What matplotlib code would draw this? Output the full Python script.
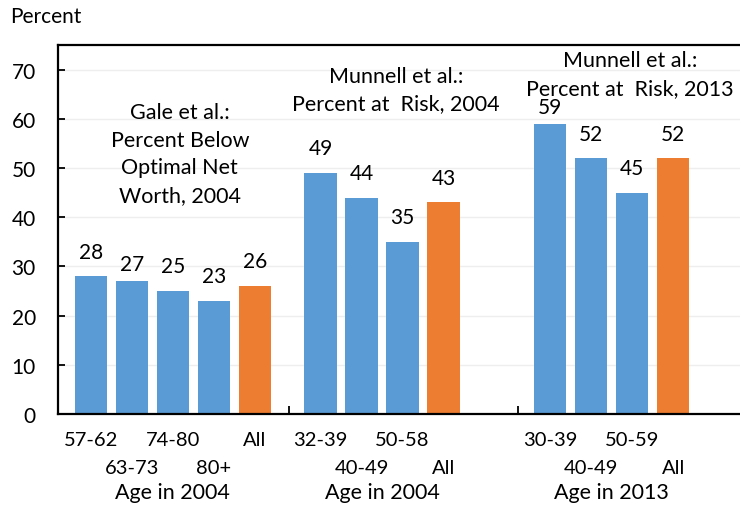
import matplotlib
matplotlib.use("Agg")
import matplotlib.pyplot as plt
import matplotlib.transforms as mtransforms

plt.rcParams["font.family"] = ["Lato", "DejaVu Sans"]

# Three studies, each with its own age groups plus an "All" bar
gale_ages = ["57-62", "63-73", "74-80", "80+", "All"]
gale_values = [28, 27, 25, 23, 26]

munnell04_ages = ["32-39", "40-49", "50-58", "All"]
munnell04_values = [49, 44, 35, 43]

munnell13_ages = ["30-39", "40-49", "50-59", "All"]
munnell13_values = [59, 52, 45, 52]

group_titles = ["Gale et al.:\nPercent Below\nOptimal Net\nWorth, 2004",
                "Munnell et al.:\nPercent at  Risk, 2004",
                "Munnell et al.:\nPercent at  Risk, 2013"]
group_axis_labels = ["Age in 2004", "Age in 2004", "Age in 2013"]

BLUE = "#5B9BD5"
ORANGE = "#ED7D31"
FS = 15

groups = [(gale_ages, gale_values),
          (munnell04_ages, munnell04_values),
          (munnell13_ages, munnell13_values)]
group_starts = [0.0, 5.6, 11.2]
separators = [4.83, 10.41]
title_pos = [(2.17, 52.9), (7.44, 65.9), (13.15, 69.1)]
label_nudge = {(0, 1): -1.6, (2, 0): -1.6}

fig = plt.figure(figsize=(7.4, 5.06), dpi=100)
ax = fig.add_axes([58 / 740, 1 - 415 / 506, 1 - 58 / 740, (415 - 46) / 506])

trans = mtransforms.blended_transform_factory(ax.transData, ax.transAxes)
ax_h = 369.0

for g, ((ages, vals), start) in enumerate(zip(groups, group_starts)):
    xs = [start + i for i in range(len(vals))]
    colors = [ORANGE if a == "All" else BLUE for a in ages]
    ax.bar(xs, vals, width=0.79, color=colors, zorder=2)
    for i, (x, v) in enumerate(zip(xs, vals)):
        y = v + 5.0 + label_nudge.get((g, i), 0)
        ax.text(x, y, str(v), ha="center", va="center", fontsize=FS, zorder=3)
    for i, (x, a) in enumerate(zip(xs, ages)):
        ypix = 25 if i % 2 == 0 else 54
        ax.text(x, -ypix / ax_h, a, transform=trans, ha="center", va="center",
                fontsize=FS - 0.5)
    ax.text(sum(xs) / len(xs), -78 / ax_h, group_axis_labels[g], transform=trans,
            ha="center", va="center", fontsize=FS + 0.5)
    tx, ty = title_pos[g]
    ax.text(tx, ty, group_titles[g], ha="center", va="center", fontsize=FS + 0.5,
            linespacing=1.47)

ax.set_xlim(-0.8, 15.83)
ax.set_ylim(0, 75)
ax.set_yticks(range(0, 71, 10))
ax.set_xticks(separators)
ax.set_xticklabels([])
ax.tick_params(axis="y", direction="in", length=5, width=1.3, labelsize=FS, pad=16)
ax.tick_params(axis="x", direction="in", length=6, width=1.3)
ax.yaxis.grid(True, color="#eeeeee", linewidth=1, zorder=0)
ax.set_axisbelow(True)
for side in ["left", "bottom", "top"]:
    ax.spines[side].set_linewidth(1.6)
ax.spines["right"].set_visible(False)

fig.text(10 / 740, 1 - 17 / 506, "Percent", ha="left", va="center", fontsize=FS)

fig.savefig("out.png", dpi=100)
